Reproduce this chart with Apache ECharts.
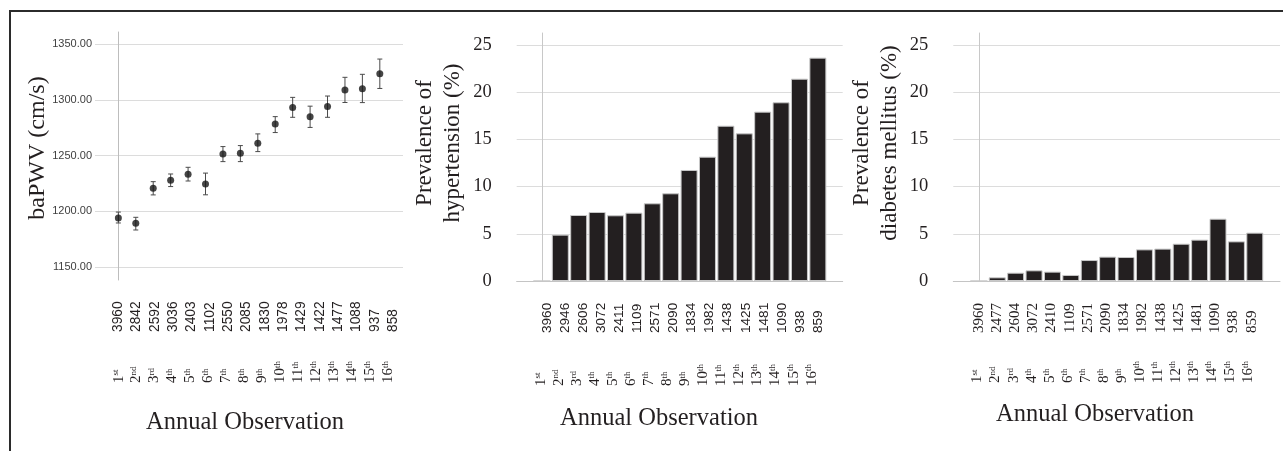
<!DOCTYPE html>
<html>
<head>
<meta charset="utf-8">
<title>Annual observation</title>
<script src="https://cdn.jsdelivr.net/npm/echarts@6/dist/echarts.min.js"></script>
<style>
  html, body { margin: 0; padding: 0; background: #fff; }
  #main { width: 1283px; height: 451px; }
</style>
</head>
<body>
<div id="main"></div>
<script>
// annual observations (index 0 = 1st year)
const years = [0, 1, 2, 3, 4, 5, 6, 7, 8, 9, 10, 11, 12, 13, 14, 15];
const ordinalNum = ["1", "2", "3", "4", "5", "6", "7", "8", "9", "10", "11", "12", "13", "14", "15", "16"];
const ordinalSup = ["st", "nd", "rd", "th", "th", "th", "th", "th", "th", "th", "th", "th", "th", "th", "th", "th"];

// baPWV mean with error bar limits (cm/s)
const bapwvMean = [1194.0, 1189.2, 1220.7, 1227.8, 1233.2, 1224.6, 1251.5, 1252.1, 1261.1, 1278.4, 1293.2, 1284.8, 1294.2, 1309.0, 1310.0, 1323.4];
const bapwvLow = [1189.5, 1183.2, 1214.7, 1222.2, 1227.2, 1214.8, 1244.6, 1244.6, 1253.6, 1270.7, 1284.4, 1275.3, 1284.4, 1297.7, 1297.6, 1310.3];
const bapwvHigh = [1199.3, 1194.6, 1226.6, 1233.5, 1239.5, 1234.3, 1258.1, 1259.0, 1269.5, 1285.0, 1302.3, 1294.4, 1303.5, 1320.3, 1323.0, 1336.7];
const bapwvN = ["3960", "2842", "2592", "3036", "2403", "1102", "2550", "2085", "1830", "1978", "1429", "1422", "1477", "1088", "937", "858"];

// prevalence (%)
const htnRate = [0, 4.91, 6.99, 7.31, 6.96, 7.24, 8.23, 9.29, 11.76, 13.17, 16.45, 15.64, 17.94, 18.93, 21.43, 23.66];
const htnN = ["3960", "2946", "2606", "3072", "2411", "1109", "2571", "2090", "1834", "1982", "1438", "1425", "1481", "1090", "938", "859"];
const dmRate = [0, 0.39, 0.88, 1.13, 0.99, 0.64, 2.22, 2.58, 2.54, 3.35, 3.43, 3.95, 4.38, 6.60, 4.20, 5.12];
const dmN = ["3960", "2477", "2604", "3072", "2410", "1109", "2571", "2090", "1834", "1982", "1438", "1425", "1481", "1090", "938", "859"];

const pwvTicks = [1150, 1200, 1250, 1300, 1350];
const pctTicks = [0, 5, 10, 15, 20, 25];

const SERIF = "'Liberation Serif', 'Times New Roman', serif";
const SANS = "'Liberation Sans', Arial, sans-serif";
const INK = "#231f20";
const GRID_GREY = "#dcdcdc";

let myChart = echarts.init(document.getElementById("main"), null, { renderer: "canvas" });

// error bar glyph for the baPWV panel
function renderErrorBar(params, api) {
  const x = api.value(0);
  const lo = api.coord([x, api.value(1)]);
  const hi = api.coord([x, api.value(2)]);
  const cap = 2.5;
  const st = { stroke: "#4a4a4a", lineWidth: 1 };
  return {
    type: "group",
    children: [
      { type: "line", shape: { x1: lo[0], y1: lo[1], x2: hi[0], y2: hi[1] }, style: st },
      { type: "line", shape: { x1: lo[0] - cap, y1: lo[1], x2: lo[0] + cap, y2: lo[1] }, style: st },
      { type: "line", shape: { x1: hi[0] - cap, y1: hi[1], x2: hi[0] + cap, y2: hi[1] }, style: st }
    ]
  };
}

function countAxis(gridIndex, min, max, list, font, size) {
  return {
    type: "value", gridIndex: gridIndex, position: "bottom", min: min, max: max,
    axisLine: { show: false, onZero: false }, axisTick: { show: false }, splitLine: { show: false },
    axisLabel: {
      customValues: years, rotate: 90, align: "left", margin: 52,
      fontFamily: font, fontSize: size, color: INK,
      formatter: (v) => list[Math.round(v)]
    }
  };
}

function ordinalAxis(gridIndex, min, max, margin) {
  return {
    type: "value", gridIndex: gridIndex, position: "bottom", min: min, max: max,
    axisLine: { show: false, onZero: false }, axisTick: { show: false }, splitLine: { show: false },
    axisLabel: {
      customValues: years, rotate: 90, align: "left", margin: margin,
      formatter: (v) => "{n|" + ordinalNum[Math.round(v)] + "}{s|" + ordinalSup[Math.round(v)] + "}",
      rich: {
        n: { fontFamily: SERIF, fontSize: 15, color: INK, lineHeight: 15, verticalAlign: "bottom" },
        s: { fontFamily: SERIF, fontSize: 9, color: INK, lineHeight: 9, verticalAlign: "top" }
      }
    }
  };
}

function barXAxis(gridIndex, min, max) {
  return {
    type: "value", gridIndex: gridIndex, position: "bottom", min: min, max: max,
    axisLine: { show: true, onZero: false, lineStyle: { color: "#c4c4c4", width: 1 } },
    axisTick: { show: false }, splitLine: { show: false }, axisLabel: { show: false }
  };
}

function pctYAxis(gridIndex) {
  return {
    type: "value", gridIndex: gridIndex, min: 0, max: 26.27,
    axisLine: { show: true, lineStyle: { color: "#c8c8c8" } },
    axisTick: { show: false, customValues: pctTicks },
    splitLine: { show: true, lineStyle: { color: GRID_GREY, width: 1 } },
    axisLabel: { customValues: pctTicks, margin: 25, fontFamily: SERIF, fontSize: 18.5, color: INK }
  };
}

const sideTitle = (x, y, text, size) => ({
  type: "text", x: x, y: y, rotation: Math.PI / 2,
  style: { text: text, font: size + "px " + SERIF, fill: INK, align: "center", verticalAlign: "middle", lineHeight: 28 }
});

const bottomTitle = (x, y) => ({
  type: "text", x: x, y: y,
  style: { text: "Annual Observation", font: "24.5px " + SERIF, fill: INK, align: "center", verticalAlign: "middle" }
});

myChart.setOption({
  animation: false,
  backgroundColor: "#ffffff",
  grid: [
    { left: 95, top: 32, width: 308, height: 248 },
    { left: 516.7, top: 33, width: 326, height: 248 },
    { left: 953.3, top: 33, width: 326.7, height: 248 }
  ],
  xAxis: [
    { type: "value", gridIndex: 0, min: -1.34, max: 16.33, show: false },
    countAxis(0, -1.27, 15.53, bapwvN, SANS, 13.8),
    ordinalAxis(0, -1.31, 15.81, 103),
    barXAxis(1, -1.37, 16.35),
    countAxis(1, -1.69, 16.37, htnN, SANS, 13.6),
    ordinalAxis(1, -1.33, 16.72, 105),
    barXAxis(2, -1.39, 16.37),
    countAxis(2, -1.40, 16.56, dmN, SERIF, 15),
    ordinalAxis(2, -1.34, 16.76, 102)
  ],
  yAxis: [
    {
      type: "value", gridIndex: 0, min: 1138.3, max: 1361,
      axisLine: { show: true, lineStyle: { color: "#bdbdbd" } },
      axisTick: { show: false, customValues: pwvTicks },
      splitLine: { show: true, lineStyle: { color: GRID_GREY, width: 1 } },
      axisLabel: {
        customValues: pwvTicks, margin: 3, fontFamily: SANS, fontSize: 11, color: "#404040",
        formatter: (v) => v.toFixed(2)
      }
    },
    pctYAxis(1),
    pctYAxis(2)
  ],
  graphic: [
    { type: "rect", shape: { x: 10, y: 11, width: 1400, height: 600 }, style: { fill: null, stroke: "#2b2b2b", lineWidth: 2 } },
    sideTitle(38, 148, "baPWV (cm/s)", 24),
    sideTitle(439, 143, "Prevalence of\nhypertension (%)", 23),
    sideTitle(876, 143, "Prevalence of\ndiabetes mellitus (%)", 23),
    bottomTitle(245, 423),
    bottomTitle(659, 419),
    bottomTitle(1095, 415)
  ],
  series: [
    {
      name: "baPWV range",
      type: "custom",
      xAxisIndex: 0, yAxisIndex: 0,
      renderItem: renderErrorBar,
      encode: { x: 0, y: [1, 2] },
      data: years.map((i) => [i, bapwvLow[i], bapwvHigh[i]]),
      z: 3
    },
    {
      name: "baPWV",
      type: "scatter",
      xAxisIndex: 0, yAxisIndex: 0,
      symbol: "circle", symbolSize: 7,
      itemStyle: { color: "#161616" },
      data: years.map((i) => [i, bapwvMean[i]]),
      z: 4
    },
    {
      name: "hypertension",
      type: "bar",
      xAxisIndex: 3, yAxisIndex: 1,
      barWidth: 17,
      itemStyle: { color: INK, borderColor: "#c8c8c8", borderWidth: 1 },
      data: years.map((i) => [i, htnRate[i]])
    },
    {
      name: "diabetes mellitus",
      type: "bar",
      xAxisIndex: 6, yAxisIndex: 2,
      barWidth: 17,
      itemStyle: { color: INK, borderColor: "#c8c8c8", borderWidth: 1 },
      data: years.map((i) => [i, dmRate[i]])
    }
  ]
});
</script>
</body>
</html>
